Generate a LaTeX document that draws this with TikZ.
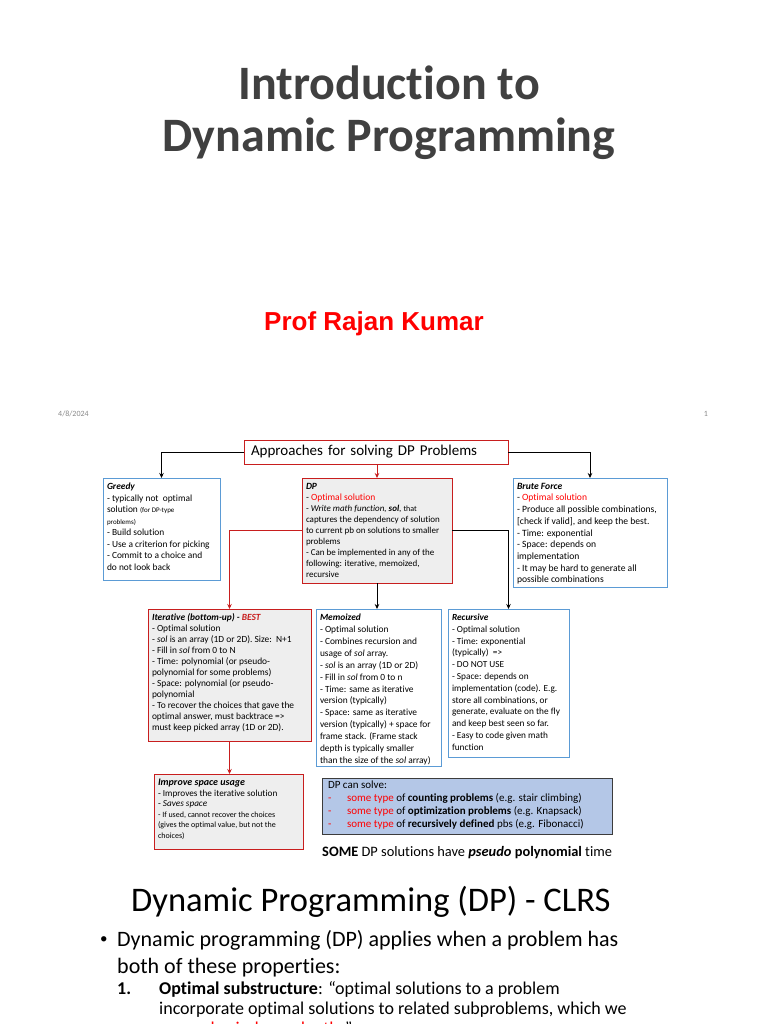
\documentclass[tikz,border=0pt]{standalone}
\usepackage{fontspec}
\setmainfont{Carlito}[Ligatures={TeX,NoCommon}]
\newfontfamily\arialfont{Liberation Sans}
\usetikzlibrary{positioning,arrows.meta}
\definecolor{boxblue}{RGB}{91,155,213}
\definecolor{boxred}{RGB}{200,30,30}
\definecolor{boxgrey}{RGB}{238,238,238}
\definecolor{solvefill}{RGB}{180,199,231}
\definecolor{solveline}{RGB}{60,60,60}
\definecolor{titlegrey}{RGB}{64,64,64}
\definecolor{dategrey}{RGB}{137,137,137}
\definecolor{hotred}{RGB}{255,0,0}
\newcommand{\fs}[2]{\fontsize{#1}{#2}\selectfont}
\newcommand{\boxbody}[3]{\parbox[c][#2][t]{#1}{\raggedright #3}}
\newcommand{\optred}{- \textcolor{hotred}{Optimal solution}}

\begin{document}
\begin{tikzpicture}[x=1pt,y=-1pt,>={Stealth[length=5pt,width=4.5pt]},
  dpbox/.style={line width=0.8pt,anchor=north west,inner xsep=4pt,inner ysep=5pt,outer sep=0pt},
  bluebox/.style={dpbox,draw=boxblue,fill=white},
  redbox/.style={dpbox,draw=boxred,fill=boxgrey},
  link/.style={->,line width=0.8pt},
  redlink/.style={link,draw=boxred},
  slidetext/.style={anchor=base west,inner sep=0pt}]
\useasboundingbox (0,0) rectangle (768,1024);
\clip (0,0) rectangle (768,1024);
\fill[white] (0,0) rectangle (768,1024);
% ---------------- title slide ----------------
\node[anchor=base,inner sep=0pt,font=\fs{48}{52}\bfseries,text=titlegrey] (title) at (389,100) {Introduction to};
\node[anchor=base,inner sep=0pt,font=\fs{48}{52}\bfseries,text=titlegrey] (subtitle) at (389,152) {Dynamic Programming};
\node[anchor=base,inner sep=0pt,font=\arialfont\fs{26}{30}\bfseries,text=hotred] (author) at (374,330) {Prof Rajan Kumar};
\node[slidetext,font=\fs{8}{10},text=dategrey] (date) at (58,416) {4/8/2024};
\node[anchor=base,inner sep=0pt,font=\fs{8}{10},text=dategrey] (pageno) at (706,416) {1};
% ---------------- approaches ----------------
\node[draw=boxred,line width=0.8pt,fill=white,minimum height=24pt,text width=250pt,align=left,inner xsep=7pt,font=\fs{15}{18}] (appr) at (376,452) {Approaches for solving DP Problems};
\node[bluebox,font=\fs{9.4}{11.5}] (greedy) at (103,478) {\boxbody{109pt}{92pt}{%
  \textbf{\textit{Greedy}}\\
  - typically not\ \ optimal\\
  solution {\fs{7}{11.5}(for DP-type}\\
  {\fs{7}{11.5}problems)}\\
  - Build solution\\
  - Use a criterion for picking\\
  - Commit to a choice and\\
  do not look back}};
\node[redbox,font=\fs{9}{11}] (dp) at (302,478) {\boxbody{142pt}{95pt}{%
  {\fs{9.5}{11}\textbf{\textit{DP}}}\\
  {\fs{9.5}{11}\optred}\\
  - \textit{Write math function, \textbf{sol}}, {\fs{8}{11}that}\\
  captures the dependency of solution\\
  to current pb on solutions to smaller\\
  problems\\
  - Can be implemented in any of the\\
  following: iterative, memoized,\\
  recursive}};
\node[bluebox,font=\fs{9.6}{11.7}] (brute) at (513,478) {\boxbody{146pt}{99pt}{%
  \textbf{\textit{Brute Force}}\\
  \optred\\
  - Produce all possible combinations,\\
  {[}check if valid{]}, and keep the best.\\
  - Time: exponential\\
  - Space: depends on\\
  implementation\\
  - It may be hard to generate all\\
  possible combinations}};
% ---------------- second row ----------------
\node[redbox,font=\fs{9.4}{11}] (iter) at (148,609) {\boxbody{155pt}{122pt}{%
  \textbf{\textit{Iterative (bottom-up) - \textcolor{boxred}{BEST}}}\\
  - Optimal solution\\
  - \textit{sol} is an array (1D or 2D). Size:\ \ N+1\\
  - Fill in \textit{sol} from 0 to N\\
  - Time: polynomial (or pseudo-\\
  polynomial for some problems)\\
  - Space: polynomial (or pseudo-\\
  polynomial\\
  - To recover the choices that gave the\\
  optimal answer, must backtrace =>\\
  must keep picked array (1D or 2D).}};
\node[bluebox,font=\fs{9.4}{11.9}] (memo) at (316,609) {\boxbody{117pt}{147pt}{%
  \textbf{\textit{Memoized}}\\
  - Optimal solution\\
  - Combines recursion and\\
  usage of \textit{sol} array.\\
  - \textit{sol} is an array (1D or 2D)\\
  - Fill in \textit{sol} from 0 to n\\
  - Time: same as iterative\\
  version (typically)\\
  - Space: same as iterative\\
  version (typically) + space for\\
  frame stack. (Frame stack\\
  depth is typically smaller\\
  than the size of the \textit{sol} array)}};
\node[bluebox,font=\fs{9.3}{11.8}] (recur) at (448,609) {\boxbody{113pt}{138pt}{%
  \textbf{\textit{Recursive}}\\
  - Optimal solution\\
  - Time: exponential\\
  (typically)\ \ =>\\
  - DO NOT USE\\
  - Space: depends on\\
  implementation (code). E.g.\\
  store all combinations, or\\
  generate, evaluate on the fly\\
  and keep best seen so far.\\
  - Easy to code given math\\
  function}};
% ---------------- third row ----------------
\node[redbox,font=\fs{9.2}{10.6}] (improve) at (154,774) {\boxbody{141pt}{65pt}{%
  {\fs{10}{10.6}\textbf{\textit{Improve space usage}}}\\
  - Improves the iterative solution\\
  - \textit{Saves space}\\
  {\fs{8}{10.6}- If used, cannot recover the choices}\\
  {\fs{8}{10.6}(gives the optimal value, but not the}\\
  {\fs{8}{10.6}choices)}}};
\node[dpbox,draw=solveline,fill=solvefill,inner xsep=6pt,inner ysep=3pt,font=\fs{11}{12.8}] (solve) at (322,778) {\boxbody{278pt}{50pt}{%
  DP can solve:\\
  \makebox[19pt][l]{\textcolor{hotred}{-}}\textcolor{hotred}{some type} of \textbf{counting problems} (e.g. stair climbing)\\
  \makebox[19pt][l]{\textcolor{hotred}{-}}\textcolor{hotred}{some type} of \textbf{optimization problems} (e.g. Knapsack)\\
  \makebox[19pt][l]{\textcolor{hotred}{-}}\textcolor{hotred}{some type} of \textbf{recursively defined} pbs (e.g. Fibonacci)}};
\node[slidetext,font=\fs{14.4}{17}] (pseudo) at (322,856) {\textbf{SOME} DP solutions have \textbf{\textit{pseudo}} \textbf{polynomial} time};
% connectors
\draw[link] (appr.west) -| (greedy.north);
\draw[link] (appr.east) -| (brute.north);
\draw[redlink] (appr.south -| dp.north) -- (dp.north);
\draw[redlink] (dp.west) -| (iter.north);
\draw[link] (dp.south) -- (dp.south |- memo.north);
\draw[link] (dp.east) -| (recur.north);
\draw[redlink] (iter.south) -- (iter.south |- improve.north);
% ---------------- next slide ----------------
\node[slidetext,font=\fs{34.5}{40}] (clrs) at (131,911) {Dynamic Programming (DP) - CLRS};
\node[slidetext,font=\fs{15}{27}] (bullet) at (100,943) {\textbullet};
\node[slidetext,font=\fs{22}{27}] (applies) at (117,946) {Dynamic programming (DP) applies when a problem has};
\node[slidetext,font=\fs{22}{27}] (both) at (117,973) {both of these properties:};
\node[slidetext,font=\fs{18}{20}\bfseries] (item) at (117,994) {1.};
\node[slidetext,font=\fs{18}{20}] (substr) at (159,994) {\textbf{Optimal substructure}: “optimal solutions to a problem};
\node[slidetext,font=\fs{18}{20}] (incorp) at (159,1014) {incorporate optimal solutions to related subproblems, which we};
\node[slidetext,font=\fs{18}{20}] (indep) at (159,1034) {may \textcolor{hotred}{solve independently}.”};
\end{tikzpicture}
\end{document}
